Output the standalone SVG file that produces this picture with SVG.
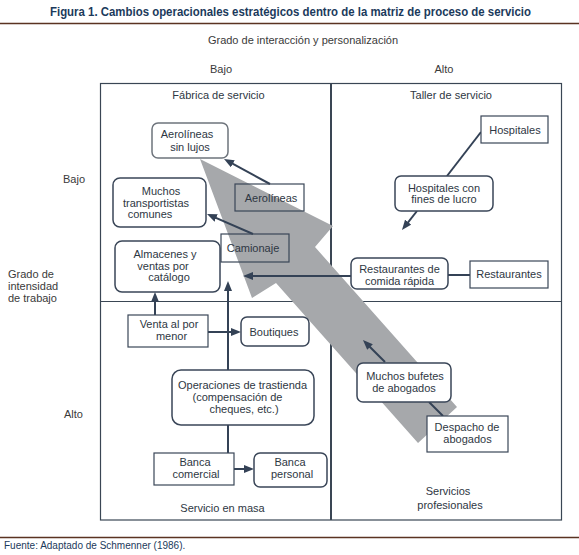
<svg xmlns="http://www.w3.org/2000/svg" width="579" height="555" viewBox="0 0 579 555">
<style>
text{font-family:"Liberation Sans",Arial,sans-serif;font-size:11px;fill:#2e3743;text-anchor:middle}
.title{font-weight:bold;font-size:12px;fill:#1b3a5c;text-anchor:start}
.foot{font-size:10px;fill:#1b3a5c;text-anchor:start}
.axis{fill:#3a3a3a}
.st{text-anchor:start}
.rb{fill:#fff;stroke:#3a4658;stroke-width:1.5}
.sq{fill:#fff;stroke:#3a4658;stroke-width:1.2}
.sqn{fill:none;stroke:#3a4658;stroke-width:1.2}
.cn{fill:none;stroke:#344256;stroke-width:2}
.grid{fill:none;stroke:#3a4654;stroke-width:1.2}
</style>
<defs>
<marker id="ah" markerUnits="userSpaceOnUse" markerWidth="10" markerHeight="8" refX="4" refY="4" orient="auto">
<path d="M0,0 L10,4 L0,8 z" fill="#344256"/>
</marker>
</defs>
<rect width="579" height="555" fill="#fff"/>
<text class="title" x="50" y="16" textLength="481" lengthAdjust="spacingAndGlyphs">Figura 1. Cambios operacionales estratégicos dentro de la matriz de proceso de servicio</text>
<line x1="0" y1="23.5" x2="579" y2="23.5" stroke="#5a3322" stroke-width="1.5"/>
<text class="axis" x="303" y="44">Grado de interacción y personalización</text>
<text class="axis" x="221" y="73">Bajo</text>
<text class="axis" x="444" y="73">Alto</text>
<text class="axis" x="74" y="183">Bajo</text>
<text class="axis st" x="8" y="278">Grado de</text>
<text class="axis st" x="8" y="290">intensidad</text>
<text class="axis st" x="8" y="302">de trabajo</text>
<text class="axis" x="73.5" y="418">Alto</text>
<g id="grid">
<rect class="grid" x="100.5" y="83.5" width="461" height="436.5"/>
<line x1="331" y1="83" x2="331" y2="520" stroke="#3a4654" stroke-width="2"/>
<line x1="100" y1="301.5" x2="562" y2="301.5" stroke="#3a4654" stroke-width="1.2"/>
</g>
<text x="218.5" y="99">Fábrica de servicio</text>
<text x="451" y="99">Taller de servicio</text>
<text x="222.5" y="511.5">Servicio en masa</text>
<text x="448" y="495">Servicios</text>
<text x="450" y="508.5">profesionales</text>
<polygon id="big-arrow" points="200,159 333,226 315,247 457,407 418,443 276,283 252,298" fill="#a6a8ab"/>
<g id="connectors">
<path class="cn" d="M270,184 L229.3,161.9" marker-end="url(#ah)"/>
<path class="cn" d="M253,234 L212.5,216.4" marker-end="url(#ah)"/>
<path class="cn" d="M351,276 L249,276" marker-end="url(#ah)"/>
<path class="cn" d="M228,370 L228,287" marker-end="url(#ah)"/>
<path class="cn" d="M155,315 L155,298" marker-end="url(#ah)"/>
<path class="cn" d="M208,332 L235,332" marker-end="url(#ah)"/>
<path class="cn" d="M228,425 L228,453"/>
<path class="cn" d="M234,469 L248,469" marker-end="url(#ah)"/>
<path class="cn" d="M481,132 L447,176"/>
<path class="cn" d="M417,211 L405.7,225.3" marker-end="url(#ah)"/>
<path class="cn" d="M470,275 L448,275"/>
<path class="cn" d="M385,362 L367.2,344.2" marker-end="url(#ah)"/>
<path class="cn" d="M443,416 L429,402"/>
</g>
<g id="n-aerolineas-sin-lujos">
<rect class="rb" x="152" y="123" width="76" height="35" rx="6" style="stroke:#6e747c"/>
<text x="187" y="138">Aerolíneas</text>
<text x="190" y="151">sin lujos</text>
</g>
<g id="n-muchos-transportistas">
<rect class="rb" x="113" y="178" width="93" height="49" rx="7"/>
<text x="161" y="195">Muchos</text>
<text x="156" y="206.5">transportistas</text>
<text x="150" y="218">comunes</text>
</g>
<g id="n-aerolineas">
<rect class="sqn" x="235" y="184" width="69" height="27"/>
<text x="271" y="201.5">Aerolíneas</text>
</g>
<g id="n-camionaje">
<rect class="sqn" x="221" y="234" width="68" height="28"/>
<text x="253" y="251.5">Camionaje</text>
</g>
<g id="n-almacenes">
<rect class="rb" x="115" y="241" width="105" height="51" rx="7"/>
<text x="165" y="258">Almacenes y</text>
<text x="163" y="269.5">ventas por</text>
<text x="169" y="281">catálogo</text>
</g>
<g id="n-hospitales">
<rect class="sq" x="481" y="116" width="67" height="27"/>
<text x="515" y="133.5">Hospitales</text>
</g>
<g id="n-hospitales-lucro">
<rect class="rb" x="395" y="176" width="98" height="35" rx="6"/>
<text x="444" y="191.5">Hospitales con</text>
<text x="444" y="203">fines de lucro</text>
</g>
<g id="n-restaurantes-comida">
<rect class="rb" x="351" y="258" width="97" height="31" rx="6"/>
<text x="399.5" y="273">Restaurantes de</text>
<text x="399.5" y="284.5">comida rápida</text>
</g>
<g id="n-restaurantes">
<rect class="sq" x="470" y="261" width="78" height="27"/>
<text x="509" y="278">Restaurantes</text>
</g>
<g id="n-venta">
<rect class="sq" x="128" y="315" width="80" height="32"/>
<text x="169" y="328">Venta al por</text>
<text x="171.5" y="340">menor</text>
</g>
<g id="n-boutiques">
<rect class="rb" x="241" y="317" width="68" height="29" rx="6"/>
<text x="274" y="335.5">Boutiques</text>
</g>
<g id="n-operaciones">
<rect class="rb" x="172" y="370" width="142" height="55" rx="9"/>
<text x="242.5" y="388.5">Operaciones de trastienda</text>
<text x="237.5" y="400.5">(compensación de</text>
<text x="244" y="412.5">cheques, etc.)</text>
</g>
<g id="n-banca-comercial">
<rect class="sq" x="154" y="453" width="80" height="32"/>
<text x="195" y="466">Banca</text>
<text x="196" y="478">comercial</text>
</g>
<g id="n-banca-personal">
<rect class="rb" x="254" y="453" width="73" height="34" rx="6"/>
<text x="290" y="466">Banca</text>
<text x="292" y="478">personal</text>
</g>
<g id="n-muchos-bufetes">
<rect class="rb" x="357" y="363" width="94" height="39" rx="6"/>
<text x="405" y="380">Muchos bufetes</text>
<text x="404" y="391.5">de abogados</text>
</g>
<g id="n-despacho">
<rect class="sq" x="427" y="416" width="81" height="36"/>
<text x="467" y="431">Despacho de</text>
<text x="467.5" y="443">abogados</text>
</g>
<line x1="0" y1="537.5" x2="579" y2="537.5" stroke="#5a3322" stroke-width="1.5"/>
<text class="foot" x="4" y="549">Fuente: Adaptado de Schmenner (1986).</text>
</svg>
